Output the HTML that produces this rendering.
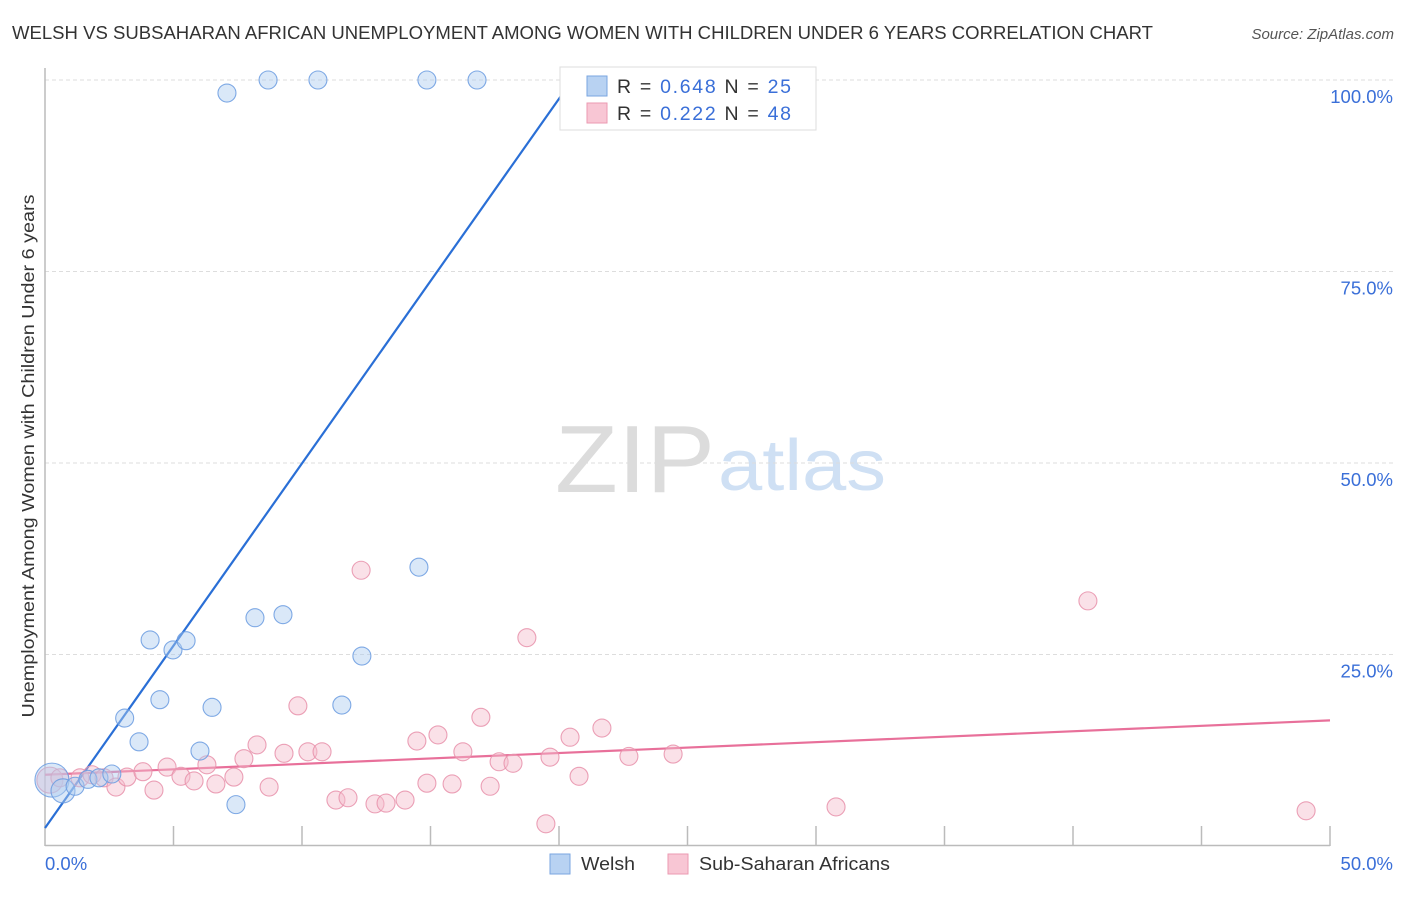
<!DOCTYPE html>
<html><head><meta charset="utf-8"><style>
body{margin:0;background:#fff;font-family:"Liberation Sans",sans-serif;}
svg text{font-family:"Liberation Sans",sans-serif;}
</style></head><body>
<svg id="chart" width="1406" height="892" viewBox="0 0 1406 892" xmlns="http://www.w3.org/2000/svg">
<text x="12" y="39" font-size="18" fill="#333" textLength="1141" lengthAdjust="spacingAndGlyphs">WELSH VS SUBSAHARAN AFRICAN UNEMPLOYMENT AMONG WOMEN WITH CHILDREN UNDER 6 YEARS CORRELATION CHART</text>
<text x="1394" y="39" font-size="15" fill="#555" text-anchor="end" font-style="italic">Source: ZipAtlas.com</text>
<g>
<text x="555" y="492" font-size="96" font-family="Liberation Serif" fill="#dcdcdc" textLength="160" lengthAdjust="spacingAndGlyphs">ZIP</text>
<text x="718" y="490" font-size="72" fill="#cfe0f4" textLength="168" lengthAdjust="spacingAndGlyphs">atlas</text>
</g>
<g id="grid"></g>
<g id="axes"></g>
<g id="lines"></g>
<g id="points"></g>
<text transform="translate(34,456) rotate(-90)" font-size="17.5" fill="#333" text-anchor="middle" textLength="523" lengthAdjust="spacingAndGlyphs">Unemployment Among Women with Children Under 6 years</text>
<g>
<rect x="560" y="67" width="256" height="63" fill="#fff" stroke="#ddd"/>
<rect x="587" y="76" width="20" height="20" fill="#b8d2f2" stroke="#7aa6e0"/>
<text x="617" y="93" font-size="19.5" fill="#333" textLength="174" lengthAdjust="spacing">R = <tspan fill="#3a6fd8">0.648</tspan>   N = <tspan fill="#3a6fd8">25</tspan></text>
<rect x="587" y="103" width="20" height="20" fill="#f8c6d4" stroke="#eb9ab2"/>
<text x="617" y="120" font-size="19.5" fill="#333" textLength="174" lengthAdjust="spacing">R =  <tspan fill="#3a6fd8">0.222</tspan>   N = <tspan fill="#3a6fd8">48</tspan></text>
</g>
<g>
<rect x="550" y="854" width="20" height="20" fill="#b8d2f2" stroke="#7aa6e0"/>
<text x="581" y="870" font-size="18.5" fill="#333" textLength="54" lengthAdjust="spacingAndGlyphs">Welsh</text>
<rect x="668" y="854" width="20" height="20" fill="#f8c6d4" stroke="#eb9ab2"/>
<text x="699" y="870" font-size="18.5" fill="#333" textLength="191" lengthAdjust="spacingAndGlyphs">Sub-Saharan Africans</text>
</g>
</svg>
<script>
const welshX=[0.27,0.7,1.17,1.67,2.1,2.6,3.1,3.66,4.09,4.47,4.98,5.49,6.03,6.5,7.08,7.43,8.17,8.68,9.26,10.62,11.55,12.33,14.55,14.86,16.81];
const welshY=[8.6,7.2,7.8,8.7,8.9,9.4,16.7,13.6,26.9,19.1,25.6,26.8,12.4,18.1,98.3,5.4,29.8,100,30.2,100,18.4,24.8,36.4,100,100];
const welshR=[17,12,9,9,9,9,9,9,9,9,9,9,9,9,9,9,9,9,9,9,9,9,9,9,9];
const subX=[0.19,0.58,1.36,1.83,2.30,2.76,3.19,3.81,4.24,4.75,5.29,5.80,6.30,6.65,7.35,7.74,8.25,8.72,9.30,9.84,10.23,10.78,11.32,11.79,12.30,12.84,13.27,14.01,14.47,14.86,15.29,15.84,16.26,16.96,17.32,17.67,18.21,18.75,19.49,19.65,20.43,20.78,21.67,22.72,24.44,30.78,40.58,49.07];
const subY=[8.6,8.9,8.9,9.3,8.9,7.7,9.0,9.7,7.3,10.3,9.1,8.5,10.6,8.1,9.0,11.4,13.2,7.7,12.1,18.3,12.3,12.3,6.0,6.3,36.0,5.5,5.6,6.0,13.7,8.2,14.5,8.1,12.3,16.8,7.8,11.0,10.8,27.2,2.9,11.6,14.2,9.1,15.4,11.7,12.0,5.1,32.0,4.6];
const welshTrend=[2.35,4.76]; // intercept, slope
const subTrend=[9.3,0.142];
const yTicks=[25,50,75,100];
const xTickLabels=["0.0%","50.0%"];
const NS="http://www.w3.org/2000/svg";
const X=v=>45+v*25.7, Y=v=>846-v*7.66;
function mk(p,tag,a){const e=document.createElementNS(NS,tag);for(const k in a)e.setAttribute(k,a[k]);p.appendChild(e);return e;}
const grid=document.getElementById('grid'),axes=document.getElementById('axes'),lines=document.getElementById('lines'),pts=document.getElementById('points');
yTicks.forEach(t=>{
 const l=mk(grid,'line',{x1:45,x2:1393,y1:Y(t),y2:Y(t),stroke:'#ddd','stroke-dasharray':'4,3'});
 
 
 const tx=mk(axes,'text',{x:1393,y:Y(t)+23,'font-size':18.5,fill:'#3a6fd8','text-anchor':'end'});
 tx.textContent=t.toFixed(1)+'%';
 
 
});
mk(axes,'line',{x1:45,x2:45,y1:68,y2:846,stroke:'#bbb','stroke-width':1.5});
mk(axes,'line',{x1:45,x2:1330,y1:845.5,y2:845.5,stroke:'#bbb','stroke-width':1.5});
for(let i=1;i<=10;i++){const t=mk(axes,'line',{x1:X(i*5),x2:X(i*5),y1:826,y2:846,stroke:'#bbb','stroke-width':1.5});
 
 }
[[0,'start',45],[50,'end',1393]].forEach((d,i)=>{const t=mk(axes,'text',{x:d[2],y:870,'font-size':18.5,fill:'#3a6fd8','text-anchor':d[1]});t.textContent=xTickLabels[i];
 
 });
function dot(x,y,r,f,s,n){const c=mk(pts,'circle',{cx:X(x),cy:Y(y),r:r,fill:f,'fill-opacity':0.45,stroke:s,'stroke-width':1.1,'stroke-opacity':0.85});
 
 }
subX.forEach((x,i)=>dot(x,subY[i],i==0?13:9,'#f5bccb','#e890aa','subsaharan-point'));
welshX.forEach((x,i)=>dot(x,welshY[i],welshR[i],'#aecbf0','#6a9be0','welsh-point'));
const xEnd=(100-welshTrend[0])/welshTrend[1];
const bl=mk(lines,'line',{x1:X(0),y1:Y(welshTrend[0]),x2:X(xEnd),y2:Y(100),stroke:'#2a6fd6','stroke-width':2.2});


const pl=mk(lines,'line',{x1:X(0),y1:Y(subTrend[0]),x2:X(50),y2:Y(subTrend[0]+subTrend[1]*50),stroke:'#e8709a','stroke-width':2.2});


</script>
</body></html>
